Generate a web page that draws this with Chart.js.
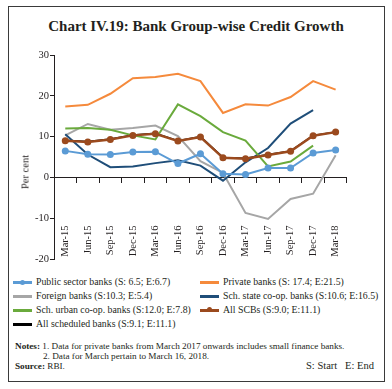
<!DOCTYPE html>
<html><head><meta charset="utf-8">
<script src="https://cdn.jsdelivr.net/npm/chart.js@4.4.1/dist/chart.umd.min.js"></script>
<style>
html,body{margin:0;padding:0;background:#fff;}
#wrap{position:relative;width:392px;height:389px;overflow:hidden;font-family:'Liberation Serif',serif;color:#231f20;}
#frame{position:absolute;left:8px;top:6px;width:377px;height:376px;border:1px solid #3a3a3a;box-sizing:border-box;}
#title{position:absolute;left:0;width:392px;top:17px;text-align:center;font-weight:bold;font-size:15px;line-height:18px;}
#cv{position:absolute;left:0;top:40px;}
#ylab{position:absolute;left:25px;top:172px;transform:translate(-50%,-50%) rotate(-90deg);font-size:10.5px;white-space:nowrap;}
.leg{position:absolute;font-size:9.8px;white-space:nowrap;line-height:12px;height:12px;}
.sw{position:absolute;top:5px;width:19px;height:3px;}
.dot{position:absolute;top:-1.5px;left:7px;width:5px;height:5px;border-radius:50%;}
.note{position:absolute;font-size:9.2px;white-space:nowrap;line-height:10px;letter-spacing:0;}
</style></head>
<body><div id="wrap">
<div id="frame"></div>
<div id="title">Chart IV.19: Bank Group-wise Credit Growth</div>
<canvas id="cv" width="392" height="230"></canvas>
<div id="ylab">Per cent</div>
<div id="legend"></div>
<div class="note" style="left:15px;top:341px;"><b>Notes:</b> 1. Data for private banks from March 2017 onwards includes small finance banks.</div>
<div class="note" style="left:43px;top:351px;">2. Data for March pertain to March 16, 2018.</div>
<div class="note" style="left:15px;top:361px;"><b>Source:</b> RBI.</div>
<div class="note" style="left:306px;top:361px;font-size:10.5px;">S: Start&nbsp;&nbsp;&nbsp;E: End</div>
</div>
<script>
const categories = ['Mar-15','Jun-15','Sep-15','Dec-15','Mar-16','Jun-16','Sep-16','Dec-16','Mar-17','Jun-17','Sep-17','Dec-17','Mar-18'];
const yTicks = [-20,-10,0,10,20,30];
const publicSector = [6.5,5.7,5.6,6.2,6.3,3.4,5.8,0.9,0.7,2.3,2.3,6.0,6.7];
const privateBanks = [17.4,17.8,20.5,24.3,24.6,25.4,23.6,15.8,17.9,17.6,19.7,23.6,21.5];
const foreignBanks = [10.3,13.1,11.7,12.1,12.7,10.1,4.0,1.1,-8.7,-10.2,-5.3,-4.0,5.4];
const stateCoop = [10.6,5.6,2.5,2.7,3.5,4.2,2.9,-0.8,3.7,7.2,13.2,16.5,null];
const urbanCoop = [12.0,12.1,11.7,10.3,9.3,17.9,15.0,11.1,9.0,2.7,3.9,7.8,null];
const allSCBs = [9.0,8.7,9.3,10.3,10.7,8.9,9.9,4.8,4.6,5.5,6.4,10.2,11.1];
const allScheduled = [9.1,8.8,9.4,10.4,10.8,9.0,10.0,4.9,4.7,5.6,6.5,10.3,11.1];
const legendLabels = [
  'Public sector banks (S: 6.5; E:6.7)',
  'Private banks (S: 17.4;  E:21.5)',
  'Foreign banks (S:10.3; E:5.4)',
  'Sch. state co-op. banks (S:10.6; E:16.5)',
  'Sch. urban co-op. banks (S:12.0; E:7.8)',
  'All SCBs (S:9.0; E:11.1)',
  'All scheduled banks (S:9.1; E:11.1)'
];
const colors = ['#5b9bd5','#f58a3c','#a6a6a6','#1f4e79','#6aaa3c','#9b4a1e','#000000'];
const seriesData = [publicSector,privateBanks,foreignBanks,stateCoop,urbanCoop,allSCBs,allScheduled];
const markers = [true,false,false,false,false,true,false];
const widths = [2,2,2,2,2,2.5,1.5];
const orders = [2,5,6,4,3,1,7];

const datasets = seriesData.map((d,i)=>({
  label: legendLabels[i], data: d, borderColor: colors[i], backgroundColor: colors[i],
  borderWidth: widths[i], pointRadius: markers[i]?3.5:0, pointHoverRadius: 0,
  pointBackgroundColor: colors[i], pointBorderWidth: 0, tension: 0, order: orders[i],
  spanGaps: false
}));

Chart.defaults.font.family = "'Liberation Serif', serif";
Chart.defaults.color = '#231f20';
new Chart(document.getElementById('cv'), {
  type: 'line',
  data: { labels: categories, datasets },
  options: {
    responsive: false, animation: false,
    layout: { padding: { left: 0, right: 20, top: 15, bottom: 11 } },
    plugins: { legend: { display: false }, tooltip: { enabled: false } },
    scales: {
      x: {
        type: 'category', position: { y: 0 }, offset: true,
        grid: { display: true, drawOnChartArea: false, offset: true, tickLength: 5, color: '#231f20', tickWidth: 1 },
        border: { display: true, color: '#231f20', width: 1 },
        ticks: { maxRotation: 90, minRotation: 90, padding: 43, font: { size: 10.5 }, autoSkip: false }
      },
      y: {
        min: -20, max: 30,
        afterFit: s => { s.width = 54; },
        afterBuildTicks: s => { s.ticks = yTicks.map(v => ({ value: v })); },
        grid: { display: true, drawOnChartArea: false, tickLength: 4, color: '#231f20' },
        border: { display: true, color: '#231f20', width: 1 },
        ticks: { padding: 1, font: { size: 10.5 } }
      }
    }
  }
});

// HTML legend
const legPos = [[13,276],[200,276],[13,289.5],[200,289.5],[13,303.5],[200,303.5],[13,317.5]];
const legEl = document.getElementById('legend');
legendLabels.forEach((t,i)=>{
  const d = document.createElement('div');
  d.className = 'leg';
  d.style.left = legPos[i][0]+'px'; d.style.top = legPos[i][1]+'px';
  d.style.paddingLeft = '23px';
  const sw = document.createElement('div');
  sw.className = 'sw'; sw.style.left = '0px'; sw.style.background = colors[i];
  if (markers[i]) { const dot = document.createElement('div'); dot.className='dot'; dot.style.background = colors[i]; sw.appendChild(dot); }
  d.appendChild(sw);
  d.appendChild(document.createTextNode(t));
  legEl.appendChild(d);
});
</script>
</body></html>
